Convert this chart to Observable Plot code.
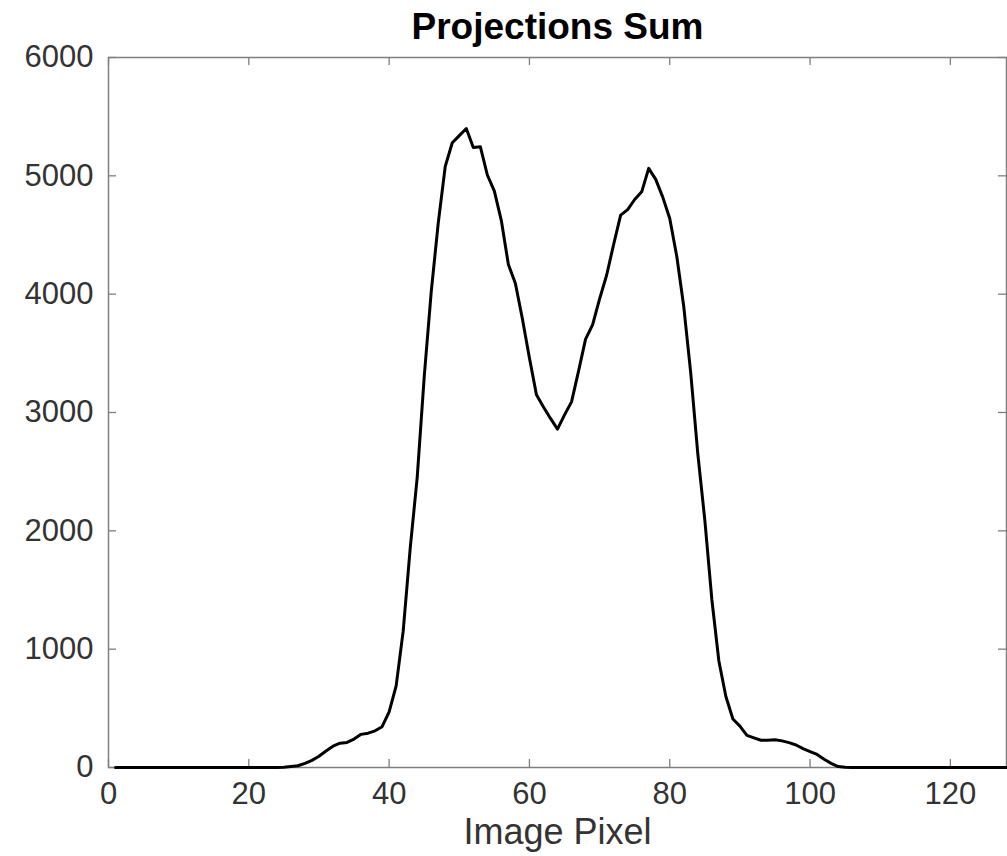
<!DOCTYPE html>
<html>
<head>
<meta charset="utf-8">
<script src="https://cdn.jsdelivr.net/npm/d3@7"></script>
<script src="https://cdn.jsdelivr.net/npm/@observablehq/plot@0.6"></script>
<style>
  html, body { margin: 0; padding: 0; background: #fff; }
  svg { display: block; }
</style>
</head>
<body>
<div id="chart"></div>
<script>
const titleText = "Projections Sum";
const xLabelText = "Image Pixel";
const xTicks = [0, 20, 40, 60, 80, 100, 120];
const yTicks = [0, 1000, 2000, 3000, 4000, 5000, 6000];

// pixel index 1..128
const pixel = d3.range(1, 129);
const projSum = [
  0,0,0,0,0,0,0,0,0,0,          // 1-10
  0,0,0,0,0,0,0,0,0,0,          // 11-20
  0,0,0,0,2,8,15,35,60,95,      // 21-30
  140,180,205,212,240,280,290,310,345,470,   // 31-40
  690,1150,1850,2450,3300,4020,4600,5080,5280,5340, // 41-50
  5400,5240,5246,5007,4870,4620,4250,4090,3790,3460, // 51-60
  3150,3047,2950,2860,2980,3090,3350,3620,3740,3960, // 61-70
  4160,4420,4668,4715,4800,4865,5063,4970,4820,4640, // 71-80
  4320,3893,3329,2650,2090,1420,900,600,410,350,     // 81-90
  271,250,230,230,234,225,210,190,160,135,           // 91-100
  110,70,35,8,2,0,0,0,0,0,                           // 101-110
  0,0,0,0,0,0,0,0,0,0,                               // 111-120
  0,0,0,0,0,0,0,0                                    // 121-128
];

const data = pixel.map((p, i) => ({pixel: p, value: projSum[i]}));

const W = 1007, H = 856;
const mL = 108, mR = 1, mT = 57, mB = 89;
const innerW = W - mL - mR, innerH = H - mT - mB;
const tickLen = 8;
const axisColor = "#7f7f7f";
const textColor = "#333333";
const font = "'Liberation Sans', Arial, Helvetica, sans-serif";

const chart = Plot.plot({
  width: W,
  height: H,
  marginLeft: mL,
  marginRight: mR,
  marginTop: mT,
  marginBottom: mB,
  style: {fontFamily: font, background: "#fff", color: textColor},
  x: {domain: [0, 128]},
  y: {domain: [0, 6000]},
  marks: [
    Plot.frame({stroke: axisColor, strokeWidth: 1.5}),
    // inward ticks on all four sides
    Plot.tickX(xTicks, {x: d => d, stroke: axisColor, strokeWidth: 1.3, insetTop: innerH - tickLen}),
    Plot.tickX(xTicks, {x: d => d, stroke: axisColor, strokeWidth: 1.3, insetBottom: innerH - tickLen}),
    Plot.tickY(yTicks, {y: d => d, stroke: axisColor, strokeWidth: 1.3, insetRight: innerW - tickLen}),
    Plot.tickY(yTicks, {y: d => d, stroke: axisColor, strokeWidth: 1.3, insetLeft: innerW - tickLen}),
    Plot.axisX({ticks: xTicks, tickSize: 0, tickPadding: 14, fontSize: 31, fill: textColor, label: null, tickFormat: d => String(d)}),
    Plot.axisY({ticks: yTicks, tickSize: 0, tickPadding: 15, fontSize: 31, fill: textColor, label: null, tickFormat: d => String(d)}),
    Plot.line(data, {x: "pixel", y: "value", stroke: "#000", strokeWidth: 3, strokeLinejoin: "round", strokeLinecap: "round"}),
    Plot.text([titleText], {frameAnchor: "top", text: d => d, dy: -19, lineAnchor: "bottom", fontSize: 37, fontWeight: "bold", fill: "#000"}),
    Plot.text([xLabelText], {frameAnchor: "bottom", text: d => d, dy: 76, lineAnchor: "bottom", fontSize: 36, fill: textColor})
  ]
});
document.getElementById("chart").appendChild(chart);
</script>
</body>
</html>
